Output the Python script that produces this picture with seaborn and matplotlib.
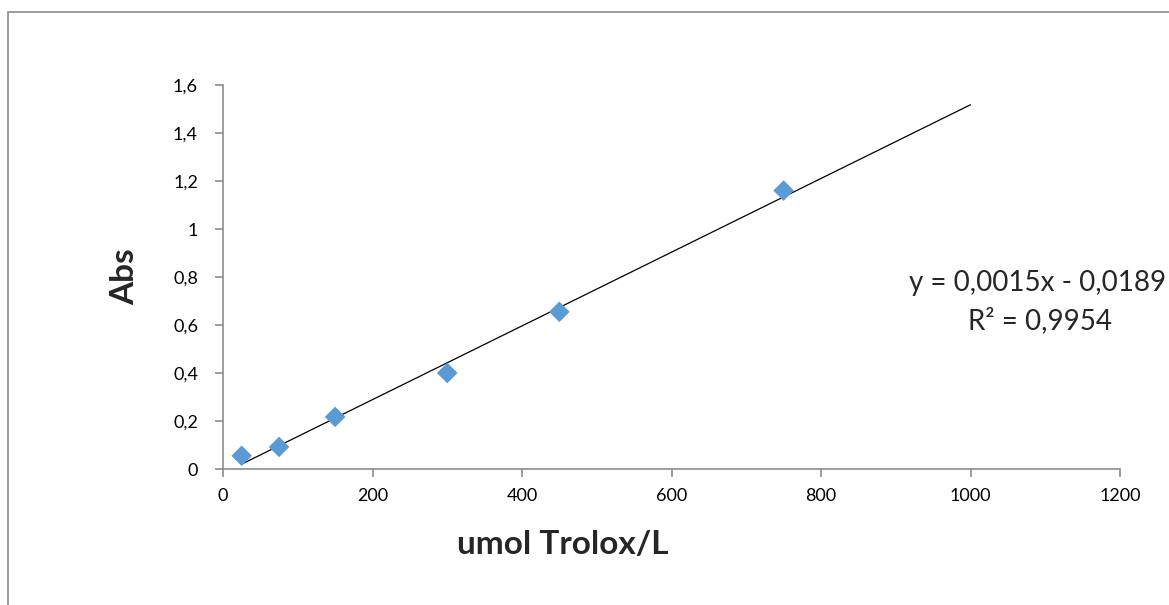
import numpy as np
import pandas as pd
import matplotlib
matplotlib.use("Agg")
import matplotlib.pyplot as plt
import seaborn as sns
from matplotlib.patches import Rectangle

# Data
concentration = [25, 75, 150, 300, 450, 750]          # umol Trolox/L
absorbance = [0.055, 0.092, 0.217, 0.400, 0.655, 1.160]
x_ticks = [0, 200, 400, 600, 800, 1000, 1200]
y_ticks = [0, 0.2, 0.4, 0.6, 0.8, 1.0, 1.2, 1.4, 1.6]
y_tick_labels = ["0", "0,2", "0,4", "0,6", "0,8", "1", "1,2", "1,4", "1,6"]
trend_range = [25, 1000]
equation_text = "y = 0,0015x - 0,0189"
r2_text = "R² = 0,9954"

sns.set_theme(style="white")
plt.rcParams['font.family'] = ['Lato', 'DejaVu Sans']

df = pd.DataFrame({"x": concentration, "y": absorbance})

fig = plt.figure(figsize=(11.69, 6.05), dpi=100)
ax = fig.add_axes([223/1169, 136/605, (1120-223)/1169, (469-85)/605])

# chart border
fig.patches.append(Rectangle((8/1169, -0.1), 1.2, (605-12)/605 + 0.1,
                             transform=fig.transFigure, fill=False,
                             edgecolor="#8c8c8c", linewidth=1.2))

# trendline
slope, intercept = np.polyfit(concentration, absorbance, 1)
tx = np.array(trend_range, dtype=float)
ax.plot(tx, slope * tx + intercept, color="black", linewidth=0.9, zorder=2)

sns.scatterplot(data=df, x="x", y="y", marker="D", s=110, color="#5B9BD5",
                edgecolor="none", ax=ax, zorder=3)

ax.set_xlim(0, 1200)
ax.set_ylim(0, 1.6)
ax.set_xticks(x_ticks)
ax.set_xticklabels([str(t) for t in x_ticks])
ax.set_yticks(y_ticks)
ax.set_yticklabels(y_tick_labels)

for side in ["top", "right"]:
    ax.spines[side].set_visible(False)
for side in ["left", "bottom"]:
    ax.spines[side].set_color("#8c8c8c")
    ax.spines[side].set_linewidth(1.2)

ax.tick_params(axis="both", which="major", direction="out", length=6, width=1.2,
               color="#8c8c8c", labelsize=13, labelcolor="black", pad=8,
               left=True, bottom=True)
ax.tick_params(axis="y", pad=12)

ax.set_xlabel("")
ax.set_ylabel("")
fig.text(563/1169, 1 - 545/605, "umol Trolox/L", ha="center", va="center",
         fontsize=24, fontweight="bold")
fig.text(125/1169, 1 - 277/605, "Abs", ha="center", va="center",
         fontsize=24, fontweight="bold", rotation=90)

fig.text(1038/1169, 1 - 283/605, equation_text, ha="center", va="center", fontsize=20)
fig.text(1040/1169, 1 - 321/605, r2_text, ha="center", va="center", fontsize=20)

fig.savefig("out.png", dpi=100)
